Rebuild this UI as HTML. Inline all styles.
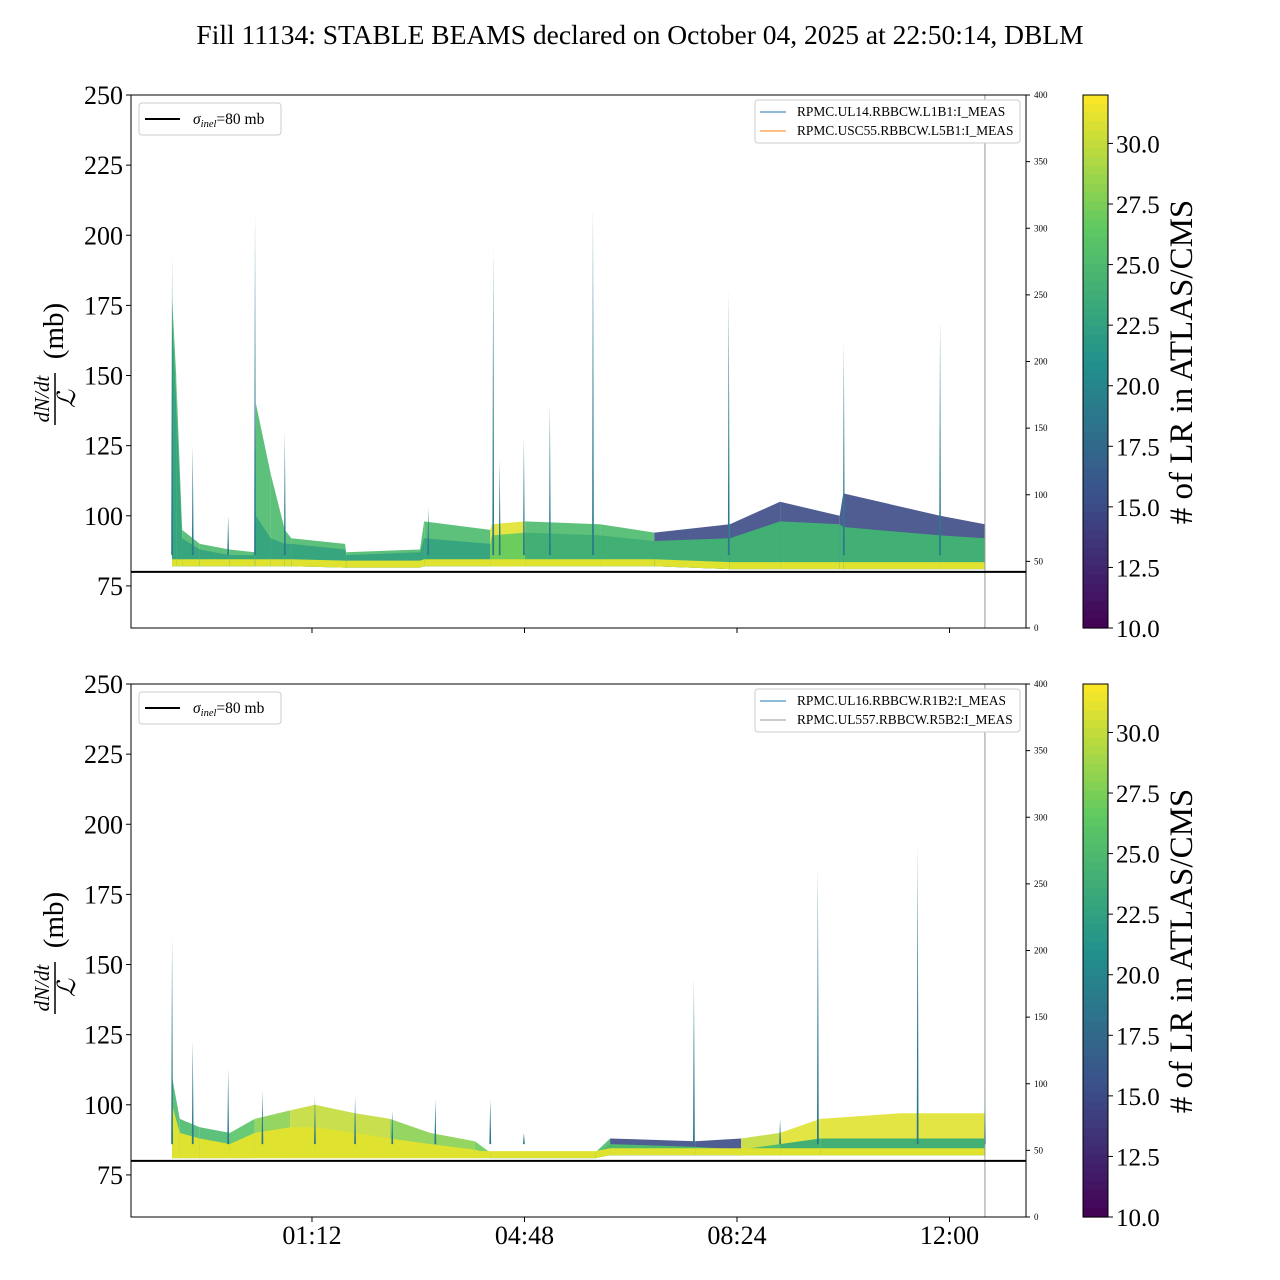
<!DOCTYPE html>
<html><head><meta charset="utf-8"><style>
html,body{margin:0;padding:0;background:#fff;}
svg{display:block;font-family:"Liberation Serif",serif;}
</style></head><body>
<svg id="c" width="1280" height="1280" xmlns="http://www.w3.org/2000/svg">
<text x="640" y="44" font-size="27.5" text-anchor="middle">Fill 11134: STABLE BEAMS declared on October 04, 2025 at 22:50:14, DBLM</text>
</svg>
<script>
// ---- data (hours relative to 00:00, negative = previous day) ----
const topTimes=[-1.17,-1.10,-1.00,-0.70,-0.20,0.23,0.25,0.50,0.74,0.85,1.76,1.78,3.03,3.10,4.22,4.25,4.81,6.08,7.0,8.28,9.13,10.14,10.2,11.84,12.6];
const topUpper=[178,150,95,90,88,87,140,115,95,92,90,87,88,98,95,97,98,97,94,97,105,100,108,100,97];
const topCore=[170,140,92,88,86,86,100,92,90,90,88,86,87,92,90,93,94,93,91,92,98,97,96,93,92];
const topLower=[82,82,82,82,82,82,82,82,82,82,81.5,81.5,81.5,82,82,82,82,82,82,81,81,81,81,81,81];
const topEnvColor=[25,25,25,25,25,25,25,25,25,25,25,25,25,25,31,31,25,25,15,15,15,15,15,15,15];
const topCoreColor=[23,23,23,23,23,23,23,23,23,23,23,23,23,23,27,27,24,24,24,24,24,24,24,24,24];
const topSpikeTimes=[-1.17,-0.82,-0.22,0.235,0.74,3.17,4.27,4.38,4.79,5.23,5.96,8.26,10.21,11.84];
const topSpikePeaks=[193,125,100,207,130,103,195,120,128,140,210,180,162,170];

const botTimes=[-1.17,-1.04,-0.70,-0.19,0.23,0.83,1.25,1.93,2.52,3.20,3.96,4.22,4.81,6.0,6.25,7.69,8.47,9.13,9.81,11.17,12.6];
const botUpper=[110,95,92,90,95,98,100,97,95,90,87,83,83,83,88,87,88,90,95,97,97];
const botCore=[100,90,88,86,90,92,92,90,88,86,84,82.5,82.5,82.5,86,85,84,86,88,88,88];
const botLower=[81,81,81,81,81,81,81,81,81,81,81,81,81,81,82,82,82,82,82,82,82];
const botEnvColor=[25,25,25,26,28,30,30,30,28,28,27,25,25,25,15,15,30,31,31,31,31];
const botCoreColor=[31,31,31,31,31,31,31,31,31,31,31,25,25,25,25,25,25,24,24,24,24];
const botSpikeTimes=[-1.17,-0.82,-0.22,0.36,1.25,1.93,2.56,3.29,4.22,4.79,7.67,9.13,9.77,11.46,12.6];
const botSpikePeaks=[160,123,113,105,103,103,98,102,102,90,145,95,185,193,110];

const cbTicks=[10,12.5,15,17.5,20,22.5,25,27.5,30];
const yTicks=[75,100,125,150,175,200,225,250];
const rTicks=[0,50,100,150,200,250,300,350,400];
const xTickLabels=["01:12","04:48","08:24","12:00"];
const xTickHours=[1.2,4.8,8.4,12.0];

const NS="http://www.w3.org/2000/svg";
const svg=document.getElementById('c');
function mk(tag,attrs,parent){const e=document.createElementNS(NS,tag);for(const k in attrs)e.setAttribute(k,attrs[k]);(parent||svg).appendChild(e);return e;}
const X0=131,X1=1026;
function xs(h){return X0+(h+1.866)*59.03;}
const vir=[[68,1,84],[59,82,139],[33,145,140],[94,201,98],[253,231,37]];
function cmap(v){let t=(v-10)/22;t=Math.max(0,Math.min(1,t));const s=t*4,i=Math.min(3,Math.floor(s)),f=s-i;const a=vir[i],b=vir[i+1];return `rgb(${Math.round(a[0]+(b[0]-a[0])*f)},${Math.round(a[1]+(b[1]-a[1])*f)},${Math.round(a[2]+(b[2]-a[2])*f)})`;}

function panel(top,times,upper,core,lower,envC,coreC,spT,spP,name,legs,showX){
  const bot=top+533;
  const ys=v=>top+(250-v)*533/190;
  const g=mk('g',{});
  
  
  for(let i=0;i<times.length-1;i++){
    const xa=xs(times[i]),xb=xs(times[i+1]);
    const p=mk('polygon',{points:`${xa},${ys(upper[i])} ${xb},${ys(upper[i+1])} ${xb},${ys(lower[i+1])} ${xa},${ys(lower[i])}`,fill:cmap(envC[i]),opacity:0.9},g);
    
    
    const q=mk('polygon',{points:`${xa},${ys(core[i])} ${xb},${ys(core[i+1])} ${xb},${ys(lower[i+1])} ${xa},${ys(lower[i])}`,fill:cmap(coreC[i])},g);
    
    
    const r=mk('polygon',{points:`${xa},${ys(lower[i]+2.5)} ${xb},${ys(lower[i+1]+2.5)} ${xb},${ys(lower[i+1])} ${xa},${ys(lower[i])}`,fill:cmap(31)},g);
    
    
  }
  for(let i=0;i<spT.length;i++){
    const x=xs(spT[i]);
    const s=mk('polygon',{points:`${x-0.9},${ys(86)} ${x},${ys(spP[i])} ${x+0.9},${ys(86)}`,fill:cmap(19)},g);
    
    
  }
  mk('line',{x1:xs(12.6),x2:xs(12.6),y1:top,y2:bot,stroke:'#8f9e8f','stroke-width':1},g);
  const sl=mk('line',{x1:X0,x2:X1,y1:ys(80),y2:ys(80),stroke:'#000','stroke-width':2},g);
  
  
  mk('rect',{x:X0,y:top,width:X1-X0,height:533,fill:'none',stroke:'#000','stroke-width':1},g);
  yTicks.forEach(v=>{const y=ys(v);mk('line',{x1:X0-5,x2:X0,y1:y,y2:y,stroke:'#000'},g);
    const t=mk('text',{x:X0-8,y:y+9,'font-size':26,'text-anchor':'end'},g);t.textContent=v;
    });
  rTicks.forEach(v=>{const y=bot-v*533/400;mk('line',{x1:X1,x2:X1+4,y1:y,y2:y,stroke:'#000'},g);
    const t=mk('text',{x:X1+8,y:y+3,'font-size':9},g);t.textContent=v;
    });
  xTickHours.forEach((h,i)=>{const x=xs(h);mk('line',{x1:x,x2:x,y1:bot,y2:bot+5,stroke:'#000'},g);
    if(showX){const t=mk('text',{x:x,y:bot+27,'font-size':26,'text-anchor':'middle'},g);t.textContent=xTickLabels[i];
    }});
  const yl=mk('g',{transform:`translate(53,${top+266}) rotate(-90)`},g);
  
  let t=mk('text',{x:-38,y:-4,'font-size':21,'font-style':'italic','text-anchor':'middle'},yl);t.textContent='dN/dt';
  mk('line',{x1:-64,x2:-12,y1:2,y2:2,stroke:'#000','stroke-width':1.5},yl);
  t=mk('text',{x:-38,y:22,'font-size':25,'font-style':'italic','text-anchor':'middle'},yl);t.textContent='ℒ';
  t=mk('text',{x:30,y:10,'font-size':29,'text-anchor':'middle'},yl);t.textContent='(mb)';
  const lg=mk('g',{},g);
  mk('rect',{x:139,y:top+8,width:142,height:32,rx:3,fill:'#fff',stroke:'#ccc'},lg);
  mk('line',{x1:145,x2:180,y1:top+24,y2:top+24,stroke:'#000','stroke-width':2},lg);
  t=mk('text',{x:193,y:top+29,'font-size':15.5},lg);
  t.innerHTML='<tspan font-style="italic">σ</tspan><tspan font-style="italic" font-size="10.5" dy="3">inel</tspan><tspan dy="-3">=80 mb</tspan>';
  const lr=mk('g',{},g);
  mk('rect',{x:755,y:top+5,width:265,height:43,rx:3,fill:'#fff',stroke:'#ccc'},lr);
  legs.forEach((l,i)=>{const y=top+17+i*19;mk('line',{x1:760,x2:786,y1:y,y2:y,stroke:l[1],'stroke-width':1},lr);
    const tt=mk('text',{x:797,y:y+4,'font-size':13.4},lr);tt.textContent=l[0];
    });
  const cb=mk('g',{},g);
  const N=60;for(let i=0;i<N;i++){mk('rect',{x:1083,y:top+i*533/N,width:25,height:533/N+0.6,fill:cmap(32-(i+0.5)*22/N)},cb);}
  mk('rect',{x:1083,y:top,width:25,height:533,fill:'none',stroke:'#000'},cb);
  cbTicks.forEach(v=>{const y=top+533-(v-10)*533/22;mk('line',{x1:1108,x2:1113,y1:y,y2:y,stroke:'#000'},cb);
    const tt=mk('text',{x:1116,y:y+9,'font-size':25},cb);tt.textContent=v.toFixed(1);});
  t=mk('text',{transform:`translate(1192,${top+267}) rotate(-90)`,'font-size':33,'text-anchor':'middle'},cb);t.textContent='# of LR in ATLAS/CMS';
}
panel(95,topTimes,topUpper,topCore,topLower,topEnvColor,topCoreColor,topSpikeTimes,topSpikePeaks,'top-panel',[['RPMC.UL14.RBBCW.L1B1:I_MEAS','#1f77b4'],['RPMC.USC55.RBBCW.L5B1:I_MEAS','#ff7f0e']],false);
panel(684,botTimes,botUpper,botCore,botLower,botEnvColor,botCoreColor,botSpikeTimes,botSpikePeaks,'bottom-panel',[['RPMC.UL16.RBBCW.R1B2:I_MEAS','#1f77b4'],['RPMC.UL557.RBBCW.R5B2:I_MEAS','#999']],true);
</script>
</body></html>
